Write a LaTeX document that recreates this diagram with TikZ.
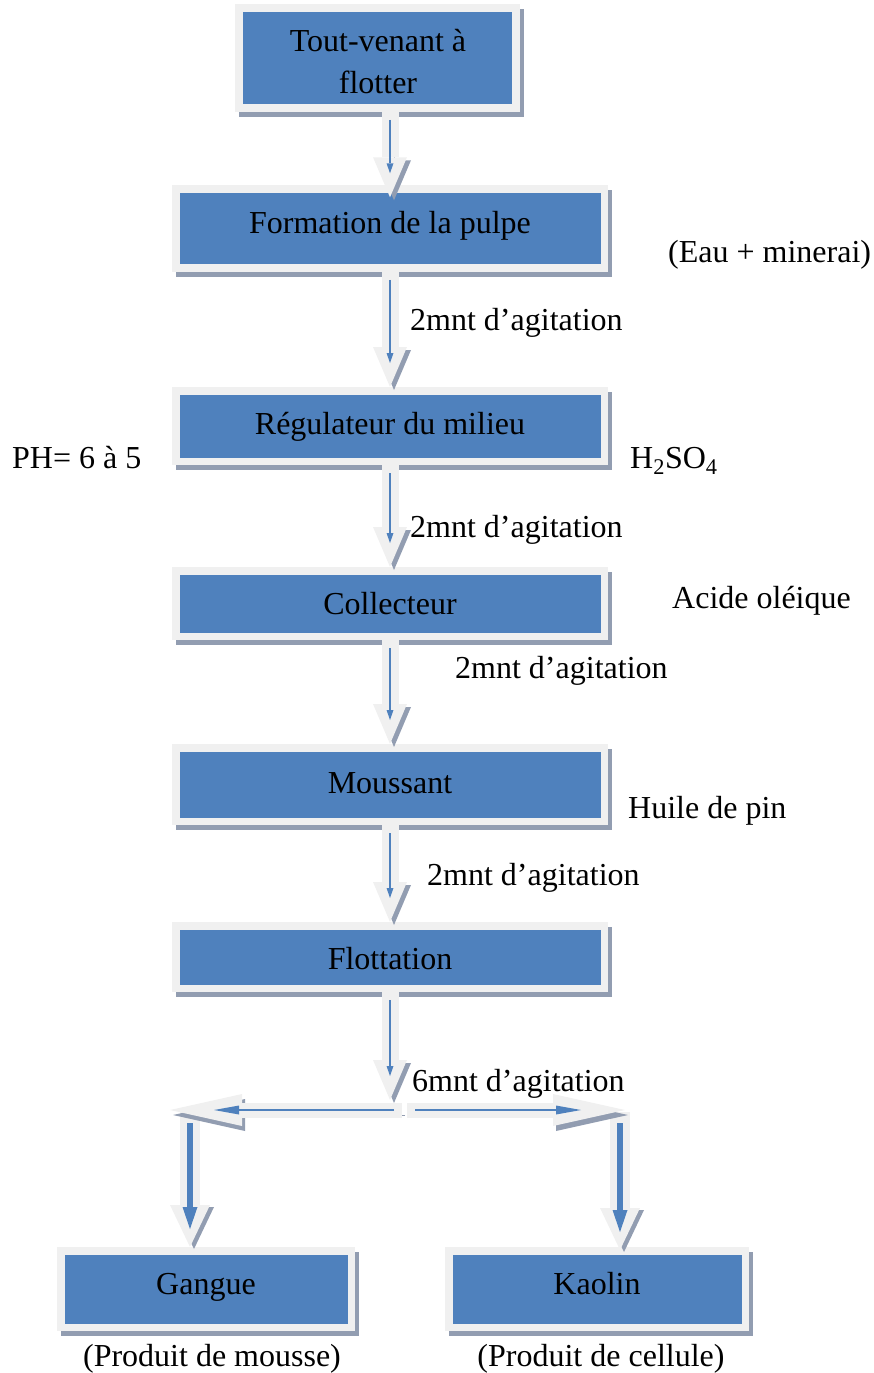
\documentclass[tikz,border=0pt]{standalone}
\usepackage{fontspec}
\setmainfont{Liberation Serif}
\usetikzlibrary{arrows.meta,calc}
\definecolor{boxblue}{RGB}{79,129,189}
\definecolor{framegray}{RGB}{240,240,240}
\definecolor{shade}{RGB}{146,157,177}
\begin{document}
\begin{tikzpicture}[x=1pt,y=-1pt,
  every node/.style={font=\fontsize{32}{42}\selectfont},
  stage/.style={draw=framegray, fill=boxblue, line width=7.5pt, inner sep=0pt,
    preaction={draw=shade, fill=shade, transform canvas={xshift=4pt,yshift=-5pt}}},
  ctr/.style={inner sep=0pt, anchor=base},
  lbl/.style={inner sep=0pt, anchor=base west},
  flow/.style={draw=framegray, line width=17pt,
    -{Triangle[width=34pt,length=40pt,line width=0pt]},
    preaction={draw=shade, transform canvas={xshift=4pt,yshift=-3pt}},
    postaction={draw=boxblue, line width=2pt, shorten <=8pt, shorten >=24pt,
      -{Triangle[width=7pt,length=10pt,line width=0pt]}}},
  hflow/.style={draw=framegray, line width=15pt,
    -{Triangle[width=32pt,length=72pt,line width=0pt]},
    preaction={draw=shade, transform canvas={xshift=3pt,yshift=-5pt}},
    postaction={draw=boxblue, line width=2.5pt, shorten <=8pt, shorten >=44pt,
      -{Triangle[width=9pt,length=25pt,line width=0pt]}}},
  dropflow/.style={draw=framegray, line width=20pt,
    -{Triangle[width=40pt,length=42pt,line width=0pt]},
    preaction={draw=shade, transform canvas={xshift=4pt,yshift=-2pt}},
    postaction={draw=boxblue, line width=6pt, shorten <=11pt, shorten >=18pt,
      -{Triangle[width=15pt,length=22pt,line width=0pt]}}}
]
\useasboundingbox (0,0) rectangle (873,1373);

% process stages
\node[stage, minimum width=277pt, minimum height=100pt] (b1) at (377.5,58) {};
\node[stage, minimum width=428.5pt, minimum height=79pt] (b2) at (390,228.5) {};
\node[stage, minimum width=428.5pt, minimum height=70.5pt] (b3) at (390,426) {};
\node[stage, minimum width=428.5pt, minimum height=65.5pt] (b4) at (390,603.5) {};
\node[stage, minimum width=428.5pt, minimum height=73.5pt] (b5) at (390,784.5) {};
\node[stage, minimum width=428.5pt, minimum height=62.5pt] (b6) at (390,957) {};
\node[stage, minimum width=290.5pt, minimum height=76.5pt] (gangue) at (206,1289) {};
\node[stage, minimum width=296.5pt, minimum height=76.5pt] (kaolin) at (597,1289) {};

% stage titles
\node[ctr] (t1a) at (378,51) {Tout-venant à};
\node[ctr] (t1b) at (378,93) {flotter};
\node[ctr] (t2) at (390,233) {Formation de la pulpe};
\node[ctr] (t3) at (390,434) {Régulateur du milieu};
\node[ctr] (t4) at (390,614) {Collecteur};
\node[ctr] (t5) at (390,793) {Moussant};
\node[ctr] (t6) at (390,969) {Flottation};
\node[ctr] (t7) at (206,1294) {Gangue};
\node[ctr] (t8) at (597,1294) {Kaolin};
\node[ctr] (n7) at (212,1366) {(Produit de mousse)};
\node[ctr] (n8) at (601,1366) {(Produit de cellule)};

% reagents and conditions
\node[lbl] (eau) at (668,262) {(Eau + minerai)};
\node[lbl] (ph) at (12,468) {PH= 6 à 5};
\node[lbl] (acid) at (630,468) {H\textsubscript{2}SO\textsubscript{4}};
\node[lbl] (oleic) at (672,608) {Acide oléique};
\node[lbl] (pine) at (628,818) {Huile de pin};
\node[lbl] (g1) at (410,330) {2mnt d’agitation};
\node[lbl] (g2) at (410,537) {2mnt d’agitation};
\node[lbl] (g3) at (455,678) {2mnt d’agitation};
\node[lbl] (g4) at (427,885) {2mnt d’agitation};
\node[lbl] (g5) at (412,1091) {6mnt d’agitation};

% main line
\coordinate (split) at (390,1100);
\draw[flow] (b1.south -| b2.north) -- ($(b2.north)+(0,12)$);
\draw[flow] (b2.south) -- (b3.north);
\draw[flow] (b3.south) -- (b4.north);
\draw[flow] (b4.south) -- (b5.north);
\draw[flow] (b5.south) -- (b6.north);
\draw[flow] (b6.south) -- (split);

% separation into froth and cell products
\coordinate (forkL) at (402,1110);
\coordinate (endL) at (170,1110);
\coordinate (forkR) at (407,1110);
\coordinate (endR) at (625,1110);
\coordinate (dropL) at (190,1112);
\coordinate (dropR) at (620,1112);
\draw[dropflow] (dropL) -- (dropL |- gangue.north);
\draw[dropflow] (dropR) -- ($(dropR |- kaolin.north)+(0,3)$);
\draw[hflow] (forkL) -- (endL);
\draw[hflow] (forkR) -- (endR);
\end{tikzpicture}
\end{document}
